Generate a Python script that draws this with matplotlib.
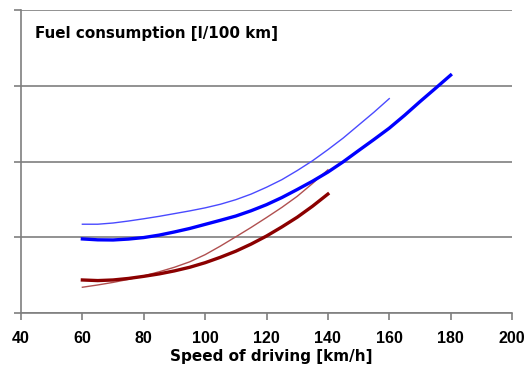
import matplotlib.pyplot as plt

# fuel consumption curves, speed in km/h
speed_a = [60, 65, 70, 75, 80, 85, 90, 95, 100, 105, 110, 115, 120,
           125, 130, 135, 140, 145, 150, 155, 160, 165, 170, 175, 180]
fuel_a = [4.89, 4.83, 4.82, 4.88, 4.98, 5.14, 5.35, 5.58, 5.85, 6.12, 6.40, 6.75, 7.15,
          7.62, 8.15, 8.70, 9.30, 9.98, 10.72, 11.45, 12.20, 13.05, 13.95, 14.82, 15.70]

speed_b = [60, 65, 70, 75, 80, 85, 90, 95, 100, 105, 110, 115, 120,
           125, 130, 135, 140, 145, 150, 155, 160]
fuel_b = [5.86, 5.86, 5.94, 6.07, 6.22, 6.38, 6.56, 6.74, 6.94, 7.18, 7.48, 7.85, 8.30,
          8.80, 9.40, 10.05, 10.78, 11.55, 12.40, 13.25, 14.15]

speed_c = [60, 65, 70, 75, 80, 85, 90, 95, 100, 105, 110, 115, 120,
           125, 130, 135, 140]
fuel_c = [2.18, 2.14, 2.18, 2.28, 2.42, 2.58, 2.78, 3.02, 3.32, 3.68, 4.08, 4.55, 5.08,
          5.68, 6.32, 7.05, 7.85]

speed_d = [60, 65, 70, 75, 80, 85, 90, 95, 100, 105, 110, 115, 120,
           125, 130, 135, 140]
fuel_d = [1.70, 1.85, 2.02, 2.22, 2.45, 2.72, 3.02, 3.38, 3.85, 4.42, 5.03, 5.65, 6.30,
          6.97, 7.70, 8.55, 9.45]

xticks = [40, 60, 80, 100, 120, 140, 160, 180, 200]
yticks = [0, 5, 10, 15, 20]

fig = plt.figure(figsize=(5.3, 3.66), dpi=100)
ax = fig.add_axes([21 / 530, 53 / 366, 491 / 530, 303 / 366])

for y in yticks:
    ax.axhline(y, color='#7f7f7f', lw=1.2, zorder=1)

ax.plot(speed_b, fuel_b, color='#4a4aff', lw=1.0, zorder=3)
ax.plot(speed_d, fuel_d, color='#b05050', lw=1.0, zorder=3)
ax.plot(speed_c, fuel_c, color='#8b0000', lw=2.4, zorder=4)
ax.plot(speed_a, fuel_a, color='#0000ff', lw=2.4, zorder=5)

ax.set_xlim(40, 200)
ax.set_ylim(0, 20)
ax.set_xticks(xticks)
ax.set_yticks(yticks)
ax.set_yticklabels([])
ax.set_xticklabels([str(t) for t in xticks], fontsize=11.5, fontweight='bold',
                   family='Liberation Sans')
ax.tick_params(axis='both', direction='out', length=5, width=1.2, color='#7f7f7f')
ax.tick_params(axis='x', pad=8)

for side in ['top', 'right']:
    ax.spines[side].set_visible(False)
for side in ['left', 'bottom']:
    ax.spines[side].set_color('#7f7f7f')
    ax.spines[side].set_linewidth(1.2)

ax.text(0.0285, 0.924, 'Fuel consumption [l/100 km]', transform=ax.transAxes,
        fontsize=10.9, fontweight='bold', family='DejaVu Sans', va='center', ha='left')
fig.text(271.5 / 530, 1 - 356 / 366, 'Speed of driving [km/h]', fontsize=11,
         fontweight='bold', family='DejaVu Sans', ha='center', va='center')

fig.savefig('out.png', dpi=100)
